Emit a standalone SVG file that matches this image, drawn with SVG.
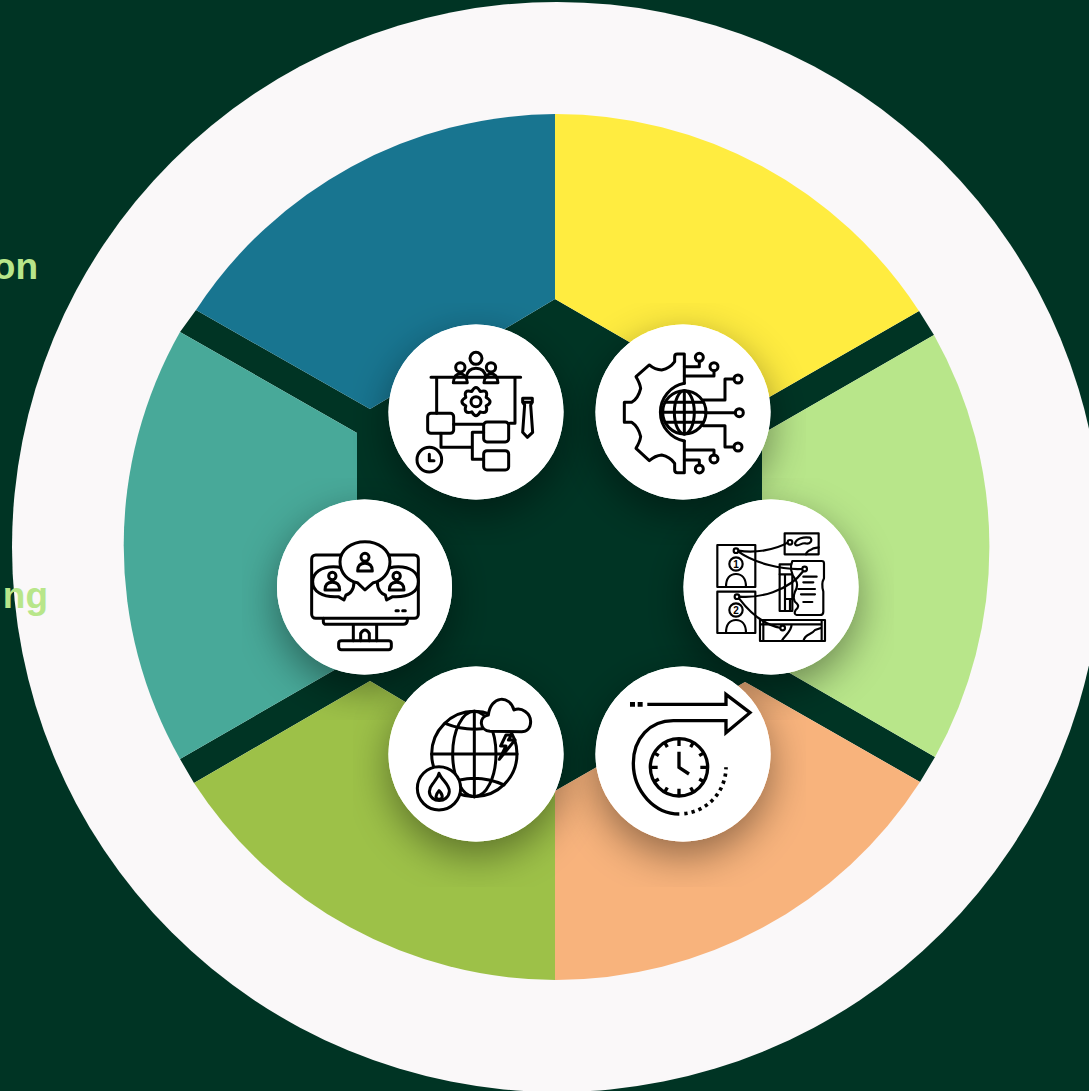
<svg xmlns="http://www.w3.org/2000/svg" width="1089" height="1091" viewBox="0 0 1089 1091">
<style>
.ic{fill:none;stroke:#000;stroke-width:9;stroke-linecap:round;stroke-linejoin:round}
.w{fill:#fff}
.lbl{font-family:"Liberation Sans",Arial,sans-serif;font-weight:700;font-size:37px;fill:#b8e68a}
.num{font-family:"Liberation Sans",Arial,sans-serif;font-weight:700;font-size:30px;fill:#000;text-anchor:middle}
.disc{fill:#fff}
.drop{fill:#fff;filter:url(#sh)}
</style>
<defs>
<filter id="sh" x="-20%" y="-12%" width="140%" height="138%">
<feDropShadow dx="0" dy="14" stdDeviation="20" flood-color="#000" flood-opacity=".42"/>
</filter>
</defs>
<rect width="1089" height="1091" fill="#003424"/>
<g id="wheel">
<circle cx="557" cy="547" r="545" fill="#faf8f9"/>
<path d="M196,310L370,409L555,299L747,410L919,311L934,335L762,434V657L935,757L920,782L745,682L555,791L370,681L194,783L180,759L357,657V433L180,332Z" fill="#003424"/>
<path d="M555,114A433,433 0 0 1 919,311L747,410L555,299Z" fill="#ffec40"/>
<path d="M555,114A433,433 0 0 0 196,310L370,409L555,299Z" fill="#187590"/>
<path d="M180,332A433,433 0 0 0 180,759L357,657V433Z" fill="#48a999"/>
<path d="M934,335A433,433 0 0 1 935,757L762,657V434Z" fill="#b8e68a"/>
<path d="M920,782A433,433 0 0 1 555,980V791L745,682Z" fill="#f8b37c"/>
<path d="M194,783A433,433 0 0 0 555,980V791L370,681Z" fill="#9dc148"/>
</g>
<g id="shadows">
<circle class="drop" cx="476" cy="412" r="87.5"/>
<circle class="drop" cx="683" cy="412" r="87.5"/>
<circle class="drop" cx="771" cy="587" r="87.5"/>
<circle class="drop" cx="683" cy="754" r="87.5"/>
<circle class="drop" cx="476" cy="754" r="87.5"/>
<circle class="drop" cx="364.500" cy="587" r="87.5"/>
</g>
<g id="connectors"></g>

<g id="node-planning">
<circle class="disc" cx="476" cy="412" r="87.5"/>
<g class="ic" transform="translate(380 315) scale(.3333)">
<circle cx="288" cy="130" r="18"/><circle cx="241" cy="157" r="14"/><circle cx="333" cy="157" r="14"/>
<path d="M258,187C262,168 275,160 288,160C302,160 315,168 318,187"/>
<path d="M220,203C222,182 232,176 241,176C250,176 260,184 262,203Z"/>
<path d="M312,203C314,184 324,176 333,176C342,176 352,182 354,203Z"/>
<path d="M153,187H422M170,187V295M405,187V325H390"/>
<g transform="translate(288 260)">
<path d="M30.500,12.600Q38,38 12.600,30.500Q0,54 -12.600,30.500Q-38,38 -30.500,12.600Q-54,0 -30.500,-12.600Q-38,-38 -12.600,-30.500Q0,-54 12.600,-30.500Q38,-38 30.500,-12.600Q54,0 30.500,12.600Z"/>
<circle r="15"/>
</g>
<rect x="143" y="295" width="78" height="60" rx="10"/>
<rect x="311" y="321" width="75" height="60" rx="10"/>
<rect x="311" y="407" width="75" height="58" rx="10"/>
<path d="M221,328H311M183,355V397H275M311,352H277V433H311"/>
<circle cx="148" cy="434" r="37"/><path d="M148,418V437H162"/>
<path d="M428,250H457V262L452,270L458,352L442,367L428,352L434,270L428,262ZM428,262H457"/>
</g>
</g>

<g id="node-digital">
<circle class="disc" cx="683" cy="412" r="87.5"/>
<g class="ic" transform="translate(590 315) scale(.3333)">
<path d="M283,205V117H262Q254,117 254,125V140Q240,160 215,165Q195,165 178,150L138,185Q150,205 152,220Q145,250 125,262H103V322H125Q145,335 152,365Q150,380 138,400L178,437Q195,422 215,420Q240,425 254,445V465Q254,473 262,473H283V378"/>
<path d="M283,205A88,88 0 0 0 283,378"/>
<circle cx="283" cy="292" r="65"/><ellipse cx="283" cy="292" rx="30" ry="65"/>
<path d="M283,227V357M218,292H348M226,262H340M226,322H340"/>
<path d="M283,155H328V139M283,183H372V167M340,255H405V192H432M345,293H436M340,332H405V396H432M283,405H372V420M283,435H328V450"/>
<circle cx="328" cy="127" r="12"/><circle cx="372" cy="155" r="12"/><circle cx="444" cy="192" r="12"/><circle cx="448" cy="293" r="12"/><circle cx="444" cy="396" r="12"/><circle cx="372" cy="432" r="12"/><circle cx="328" cy="462" r="12"/>
</g>
</g>

<g id="node-research">
<circle class="disc" cx="771" cy="587" r="87.5"/>
<g class="ic" transform="translate(675 495) scale(.3333)" style="stroke-width:6.5">
<rect x="127" y="150" width="114" height="126"/>
<rect x="127" y="290" width="114" height="124"/>
<circle cx="183" cy="207" r="20"/><circle cx="183" cy="345" r="20"/>
<path d="M153,276C153,250 165,237 183,237C200,237 213,250 213,276M153,414C153,388 165,375 183,375C200,375 213,388 213,414"/>
<rect x="329" y="115" width="102" height="63"/>
<path d="M360,145C365,130 385,125 405,128C415,135 405,150 390,145C380,143 370,155 362,150ZM393,178C395,165 410,165 415,160L431,157"/>
<rect x="314" y="208" width="38" height="140"/>
<path d="M330,240V345M314,238H360M345,312V345M330,312H370"/>
<path class="w" d="M352,198H440Q447,198 447,205V250Q438,265 445,290V350Q445,360 435,360H365Q355,358 362,345Q375,335 365,325Q350,315 360,290Q372,270 362,255Q340,225 352,198Z"/>
<path d="M385,245H425M385,262H415M370,282H420M378,298H420M385,321H412"/>
<rect x="255" y="375" width="195" height="63"/>
<path d="M265,375V438M440,375V438M320,438C330,420 350,410 350,388H255M385,438C390,415 410,420 420,405L440,398M350,388H440"/>
<path d="M190,167C240,175 300,165 338,143M190,170C240,205 320,225 382,222M193,305C250,310 340,290 385,228M192,310C230,360 270,390 317,399"/>
<circle class="w" cx="345" cy="142" r="7"/><circle class="w" cx="183" cy="167" r="7"/><circle class="w" cx="186" cy="305" r="7"/><circle class="w" cx="389" cy="222" r="7"/><circle class="w" cx="323" cy="399" r="7"/>
<text class="num" x="183" y="218" style="stroke:none">1</text>
<text class="num" x="183" y="356" style="stroke:none">2</text>
</g>
</g>

<g id="node-time">
<circle class="disc" cx="683" cy="754" r="87.5"/>
<g class="ic" transform="translate(590 660) scale(.3333)" style="stroke-linecap:butt;stroke-linejoin:miter;stroke-width:10">
<path d="M172,133H408V103L480,158L408,218V182H250C180,182 130,235 130,310C130,395 195,462 268,462"/>
<path d="M120,133H135M143,133H158" style="stroke-width:14"/>
<path d="M283,461A140,140 0 0 0 408,322" style="stroke-dasharray:10 12;stroke-width:11"/>
<circle cx="267" cy="322" r="86"/>
<path d="M267,275V322L297,342"/>
<g transform="translate(267 322)"><path d="M0,-85V-64M0,85V64M-85,0H-64M85,0H64M35,-60.600L42.500,-73.600M35,60.600L42.500,73.600M-35,-60.600L-42.500,-73.600M-35,60.600L-42.500,73.600M60.600,-35L73.600,-42.500M60.600,35L73.600,42.500M-60.600,-35L-73.600,-42.500M-60.600,35L-73.600,42.500"/></g>
</g>
</g>

<g id="node-climate">
<circle class="disc" cx="476" cy="754" r="87.5"/>
<g class="ic" transform="translate(380 660) scale(.3333)">
<circle cx="283" cy="282" r="128"/><ellipse cx="283" cy="282" rx="65" ry="128"/>
<path d="M283,154V410M155,282H411M195,190Q283,225 372,190M195,375Q283,335 372,375"/>
<path class="w" d="M330,214C298,212 295,170 325,165C332,105 390,105 402,150C425,140 452,160 452,185C452,205 440,215 425,215Z"/>
<path class="w" d="M378,225L362,258H378L358,298L405,240H385L395,225Z"/>
<circle class="w" cx="177" cy="385" r="65"/>
<path d="M177,340C185,360 210,375 208,395C205,430 150,430 148,395C148,378 158,375 165,362C170,355 175,350 177,340Z"/>
<path d="M177,392C190,405 190,418 177,418C165,418 165,405 177,392Z"/>
</g>
</g>

<g id="node-network">
<circle class="disc" cx="364.500" cy="587" r="87.500"/>
<g class="ic" transform="translate(270 495) scale(.3333)">
<rect x="125" y="180" width="320" height="190" rx="12"/>
<path d="M160,370V380Q160,388 170,388H400Q410,388 412,378V370M250,388V437M320,388V437M272,437V415Q285,395 298,415V437"/>
<rect x="206" y="437" width="158" height="27" rx="8"/>
<path d="M378,347H385M398,347H406"/>
<path class="w" d="M128,260C128,232 155,215 190,215C225,215 252,232 252,260C252,285 240,298 228,300L222,315L205,305C155,308 128,288 128,260Z"/>
<path class="w" d="M445,260C445,232 420,215 385,215C350,215 322,232 322,260C322,285 335,298 346,300L350,315L368,305C420,308 445,288 445,260Z"/>
<path class="w" d="M210,200C210,165 245,140 285,140C325,140 360,165 360,200C360,235 335,258 310,263L285,285L262,263C235,258 210,235 210,200Z"/>
<circle cx="285" cy="187" r="12"/><path d="M263,228Q263,205 285,205Q307,205 307,228Z"/>
<circle cx="187" cy="243" r="11"/><path d="M165,285Q165,262 187,262Q209,262 209,285Z"/>
<circle cx="380" cy="243" r="11"/><path d="M358,285Q358,262 380,262Q402,262 402,285Z"/>
</g>
</g>

<text class="lbl" x="38" y="279" text-anchor="end">on</text>
<text class="lbl" x="48" y="608" text-anchor="end">ng</text>
</svg>
